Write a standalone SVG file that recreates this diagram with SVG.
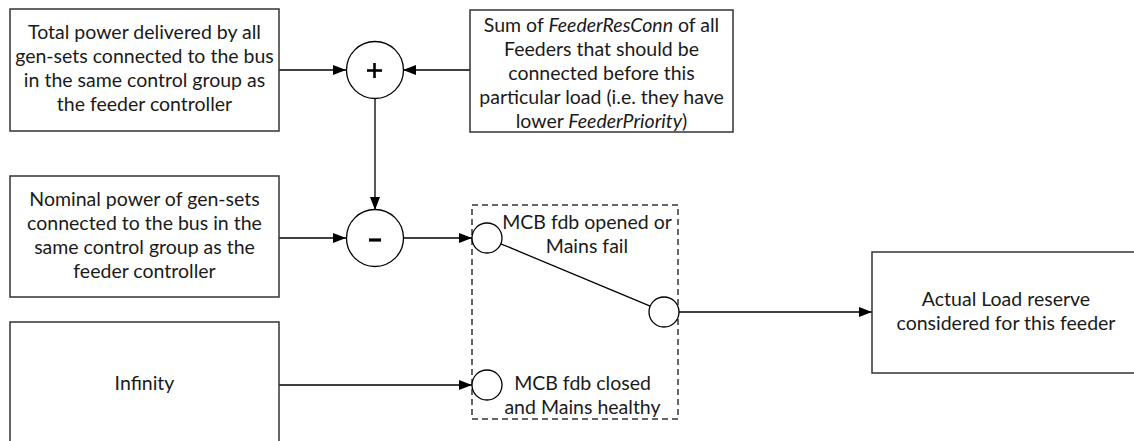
<svg xmlns="http://www.w3.org/2000/svg" width="1134" height="441" viewBox="0 0 1134 441">
<style>
.box{fill:#fff;stroke:#333;stroke-width:1.5}
.node{fill:#fff;stroke:#000;stroke-width:1.3}
.sign{stroke:#000;stroke-width:2.6}
.dash{fill:none;stroke:#333;stroke-width:1.5;stroke-dasharray:6 4}
.wire{fill:none;stroke:#000;stroke-width:1.3}
.arr{fill:none;stroke:#000;stroke-width:1.3;marker-end:url(#ah)}
text{font-family:"Lato","Liberation Sans",sans-serif;font-size:19.5px;fill:#1a1a1a;text-anchor:middle}
.it{font-style:italic}
</style>
<defs>
<marker id="ah" markerUnits="userSpaceOnUse" markerWidth="13" markerHeight="10" refX="13" refY="5" orient="auto">
<path d="M0,0 L13,5 L0,10 z" fill="#000"/>
</marker>
</defs>
<rect width="1134" height="441" fill="#fff"/>
<g id="connectors">
<line class="arr" x1="279" y1="70" x2="346" y2="70"/>
<line class="arr" x1="470" y1="70" x2="403" y2="70"/>
<line class="arr" x1="375" y1="99" x2="375" y2="210"/>
<line class="arr" x1="279" y1="238" x2="346" y2="238"/>
<line class="arr" x1="404" y1="238" x2="472" y2="238"/>
<line class="arr" x1="279" y1="385" x2="472" y2="385"/>
<line class="wire" x1="500.8" y1="243.8" x2="650.2" y2="306.2"/>
<line class="arr" x1="679" y1="312" x2="872" y2="312"/>
</g>
<g id="n-total">
<rect class="box" x="10" y="9" width="269" height="122"/>
<text x="144.5" y="39">Total power delivered by all</text>
<text x="144.5" y="63">gen-sets connected to the bus</text>
<text x="144.5" y="87">in the same control group as</text>
<text x="144.5" y="111">the feeder controller</text>
</g>
<g id="n-sum">
<rect class="box" x="470" y="10" width="263" height="122"/>
<text x="601.5" y="32">Sum of <tspan class="it">FeederResConn</tspan> of all</text>
<text x="601.5" y="56">Feeders that should be</text>
<text x="601.5" y="80">connected before this</text>
<text x="601.5" y="104">particular load (i.e. they have</text>
<text x="601.5" y="128">lower <tspan class="it">FeederPriority</tspan>)</text>
</g>
<g id="n-plus">
<circle class="node" cx="375" cy="70" r="28.5"/>
<line class="sign" x1="367" y1="70.5" x2="382" y2="70.5"/>
<line class="sign" x1="374.5" y1="63" x2="374.5" y2="78"/>
</g>
<g id="n-minus">
<circle class="node" cx="375" cy="238" r="28.5"/>
<line class="sign" x1="369" y1="240" x2="381" y2="240" style="stroke-width:3.2"/>
</g>
<g id="n-nominal">
<rect class="box" x="10" y="176" width="269" height="121"/>
<text x="144.5" y="206">Nominal power of gen-sets</text>
<text x="144.5" y="230">connected to the bus in the</text>
<text x="144.5" y="254">same control group as the</text>
<text x="144.5" y="278">feeder controller</text>
</g>
<g id="n-infinity">
<rect class="box" x="10" y="322" width="269" height="125"/>
<text x="144.5" y="390">Infinity</text>
</g>
<g id="n-switch">
<rect class="dash" x="472" y="205" width="206" height="214"/>
<circle class="node" cx="487" cy="238" r="15"/>
<circle class="node" cx="664" cy="312" r="15"/>
<circle class="node" cx="487" cy="385" r="15"/>
<text x="587" y="229">MCB fdb opened or</text>
<text x="587" y="253">Mains fail</text>
<text x="582.5" y="390">MCB fdb closed</text>
<text x="582.5" y="414">and Mains healthy</text>
</g>
<g id="n-result">
<rect class="box" x="872" y="252" width="269" height="121"/>
<text x="1006" y="306">Actual Load reserve</text>
<text x="1006" y="330">considered for this feeder</text>
</g>
</svg>
